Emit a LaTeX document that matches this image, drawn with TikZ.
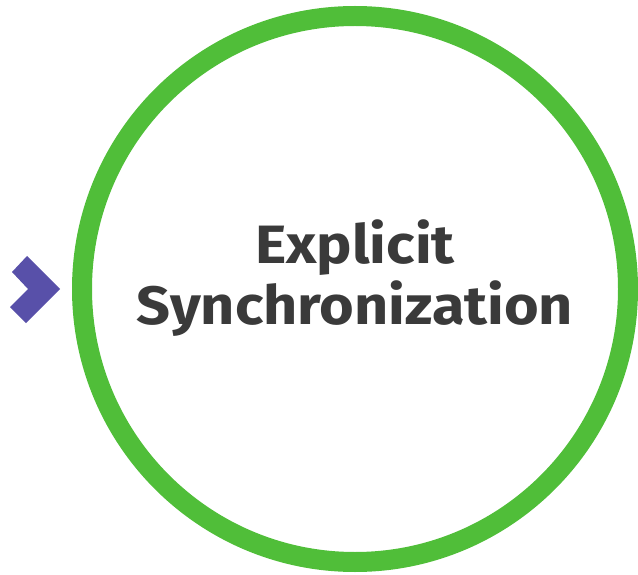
\documentclass[tikz,border=0pt]{standalone}
\usepackage{fontspec}
\setmainfont{Fira Sans}
\newfontfamily\titlefont[FakeStretch=1.1]{Fira Sans}
\definecolor{ringgreen}{HTML}{50BE39}
\definecolor{chevpurple}{HTML}{5850A9}
\definecolor{labelgray}{HTML}{3A3A3A}
\begin{document}
\begin{tikzpicture}[x=1pt,y=-1pt,
  ring/.style={draw=ringgreen,line width=20pt},
  label/.style={text=labelgray,font=\titlefont\fontsize{54}{61}\selectfont\bfseries,align=center,inner sep=0pt}]
  \useasboundingbox (0,0) rectangle (638,575);
  % entry marker
  \fill[chevpurple] (27,256) -- (60,289) -- (26,323) -- (10,307) -- (28,289) -- (12,272) -- cycle;
  % outer ring
  \node[ring,circle,minimum size=546pt,inner sep=0pt] (ring) at (355,289) {};
  \node[label] (title) at (355,278) {Explicit\\Synchronization};
\end{tikzpicture}
\end{document}
